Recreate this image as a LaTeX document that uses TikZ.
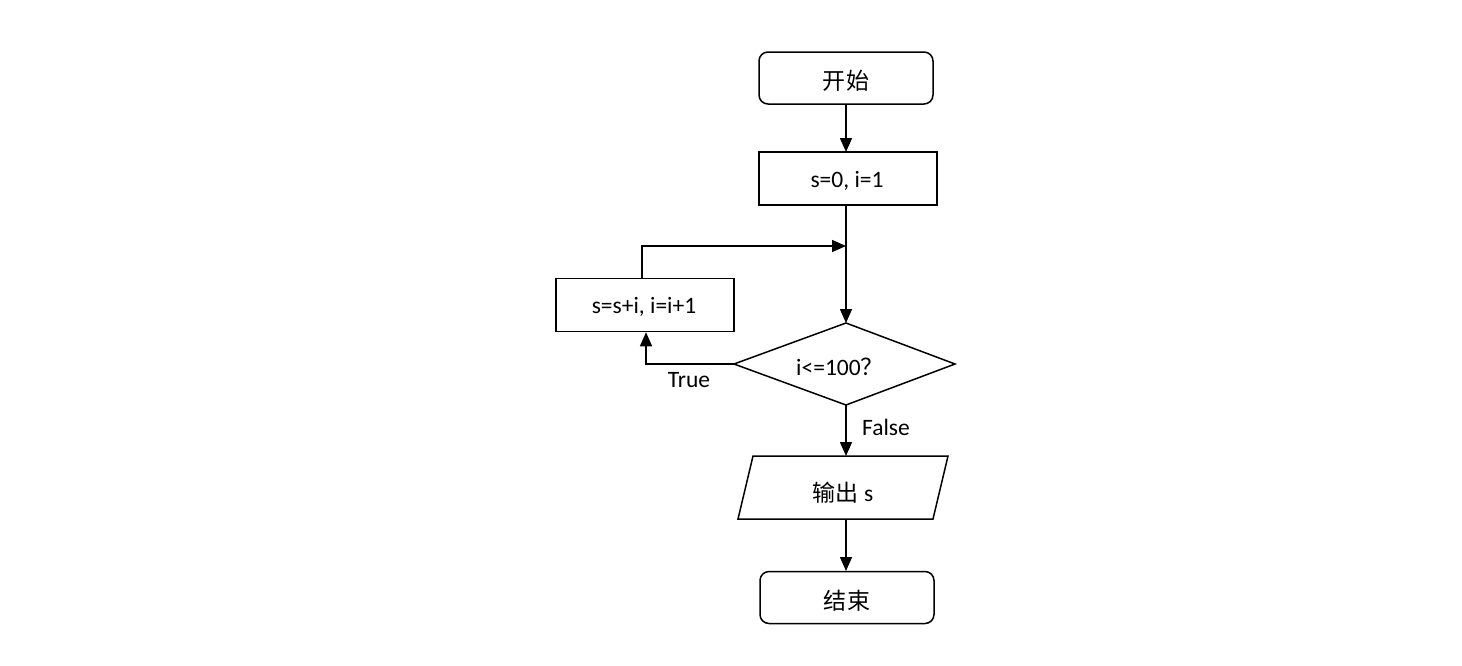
\documentclass[tikz,border=0pt]{standalone}
\usepackage{fontspec}
\setmainfont{Carlito}
\newfontfamily\cjk{Noto Sans CJK SC}[Scale=0.98]
\usetikzlibrary{arrows.meta,shapes.geometric}
\begin{document}
\begin{tikzpicture}[x=1pt,y=-1pt,
  line width=1.5pt,
  base/.style={draw=black,line width=1.5pt,inner sep=0pt,font=\fontsize{23.5}{28}\selectfont},
  term/.style={base,rounded corners=9pt,minimum width=174pt,minimum height=52pt},
  proc/.style={base,minimum width=178pt,minimum height=53pt},
  arr/.style={-{Triangle[length=14pt,width=12pt]},line width=1.5pt},
  lbl/.style={font=\fontsize{23.5}{28}\selectfont},
  txt/.style={font=\fontsize{23.5}{28}\selectfont}]
\useasboundingbox (0,0) rectangle (1462,665);
\node[term] (start) at (846,78) {};
\node[txt] (starttext) at (846,81) {\cjk 开始};
\node[proc] (init) at (848,178.5) {};
\node[txt] (inittext) at (847,181) {s=0, i=1};
\node[proc] (body) at (645,305) {};
\node[txt] (bodytext) at (644,307) {s=s+i, i=i+1};
\draw[line width=1.5pt] (734,364) coordinate (dl) -- (846,323) coordinate (dt) -- (955,364) coordinate (dr) -- (846,405) coordinate (db) -- cycle;
\node[lbl] (dtext) at (840,367) {i<=100{\cjk ？}};
\draw[line width=1.5pt] (753,456) coordinate (io1) -- (948,456) coordinate (io2) -- (933,519) coordinate (io3) -- (738,519) coordinate (io4) -- cycle;
\node[lbl] (iotext) at (843,493) {{\cjk 输出} s};
\node[term] (end) at (847,597.5) {};
\node[txt] (endtext) at (847,601) {\cjk 结束};
\coordinate (iotop) at (846,456);
\coordinate (iobot) at (846,519);
\coordinate (merge) at (846,246);
\coordinate (lup) at (642,246);
\coordinate (tcorner) at (646,364);
\coordinate (s1) at (846,104);
\coordinate (s2) at (846,152);
\coordinate (s3) at (846,205);
\coordinate (e1) at (846,571);
\draw[arr] (s1) -- (s2);
\draw[arr] (s3) -- (dt);
\draw[arr] (body.north -| lup) -- (lup) -- (merge);
\draw[arr] (dl) -- (tcorner) -- (tcorner |- body.south);
\draw[arr] (db) -- (iotop);
\draw[arr] (iobot) -- (e1);
\node[lbl] (ttrue) at (689,380) {True};
\node[lbl] (tfalse) at (886,427) {False};
\end{tikzpicture}
\end{document}
